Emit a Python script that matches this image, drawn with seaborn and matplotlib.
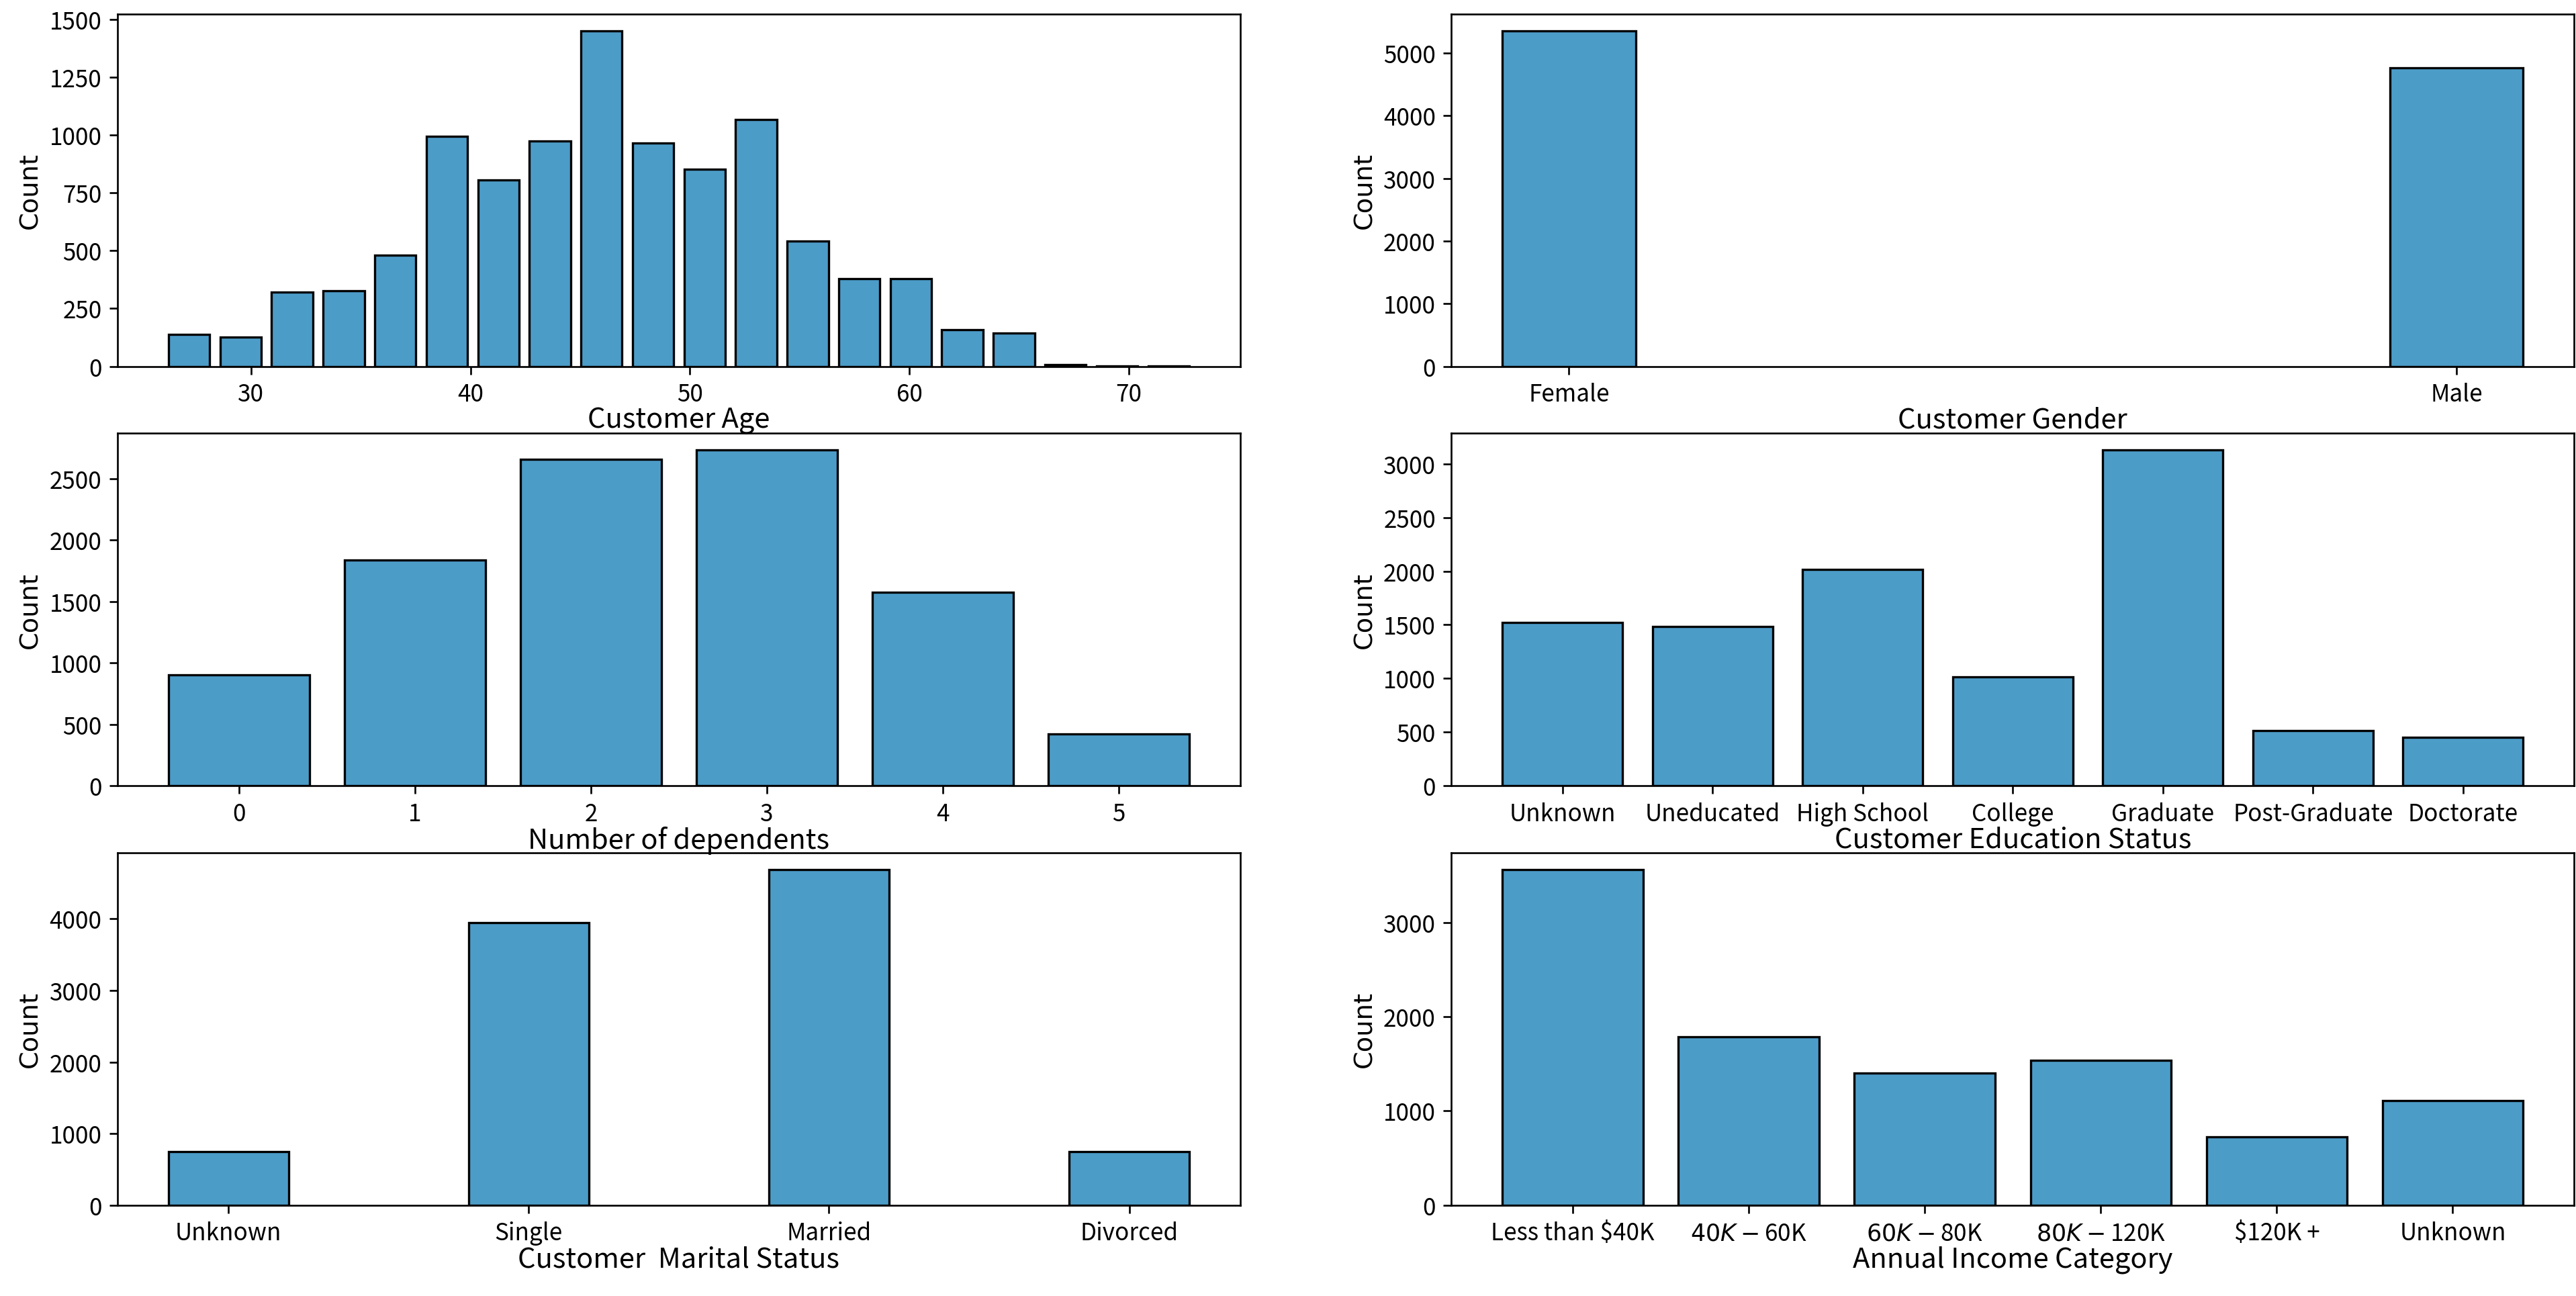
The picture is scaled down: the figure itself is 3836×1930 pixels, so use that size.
import matplotlib
matplotlib.use("Agg")
import matplotlib.pyplot as plt
import numpy as np
import seaborn as sns

# data
age_range = (26, 73)
age_bins = 20
age_counts = [139, 126, 321, 327, 481, 994, 805, 974, 1452, 967,
              852, 1067, 543, 380, 380, 158, 144, 8, 1, 1]

gender_labels = ["Female", "Male"]
gender_counts = [5358, 4769]

dependent_labels = [0, 1, 2, 3, 4, 5]
dependent_counts = [904, 1838, 2655, 2732, 1574, 424]

education_labels = ["Unknown", "Uneducated", "High School", "College",
                    "Graduate", "Post-Graduate", "Doctorate"]
education_counts = [1519, 1487, 2013, 1013, 3128, 516, 451]

marital_labels = ["Unknown", "Single", "Married", "Divorced"]
marital_counts = [749, 3943, 4687, 748]

income_labels = ["Less than $40K", "$40K - $60K", "$60K - $80K",
                 "$80K - $120K", "$120K +", "Unknown"]
income_counts = [3561, 1790, 1402, 1535, 727, 1112]

plt.rcParams['font.family'] = ['Noto Sans CJK SC', 'DejaVu Sans']
plt.rcParams['font.size'] = 10.5
plt.rcParams['axes.labelpad'] = 0

bar_color = "#107bb6"

fig, axes = plt.subplots(3, 2, figsize=(3836 / 240, 1931 / 240), dpi=240)
fig.subplots_adjust(left=0.0456, right=0.9993, top=0.9888, bottom=0.070,
                    wspace=0.188, hspace=0.19)

# age histogram: one weighted point per bin centre
edges = np.linspace(age_range[0], age_range[1], age_bins + 1)
centres = (edges[:-1] + edges[1:]) / 2
sns.histplot(x=centres, weights=age_counts, bins=age_bins, binrange=age_range,
             shrink=0.8, color=bar_color, ax=axes[0, 0])
axes[0, 0].set_xlabel("Customer Age")

sns.histplot(x=gender_labels, weights=gender_counts, shrink=0.15,
             color=bar_color, ax=axes[0, 1])
axes[0, 1].set_xlabel("Customer Gender")

sns.histplot(x=dependent_labels, weights=dependent_counts, discrete=True,
             shrink=0.8, color=bar_color, ax=axes[1, 0])
axes[1, 0].set_xlabel("Number of dependents")

sns.histplot(x=education_labels, weights=education_counts, shrink=0.8,
             color=bar_color, ax=axes[1, 1])
axes[1, 1].set_xlabel("Customer Education Status")

sns.histplot(x=marital_labels, weights=marital_counts, shrink=0.4,
             color=bar_color, ax=axes[2, 0])
axes[2, 0].set_xlabel("Customer  Marital Status")

sns.histplot(x=income_labels, weights=income_counts, shrink=0.8,
             color=bar_color, ax=axes[2, 1])
axes[2, 1].set_xlabel("Annual Income Category")

for ax in axes.flat:
    ax.xaxis.label.set_fontsize(12.5)
    ax.set_ylabel("Count", fontfamily="DejaVu Sans", fontsize=11.5, labelpad=3)
    ax.patch.set_alpha(0)

fig.savefig("out.png", dpi=240)
